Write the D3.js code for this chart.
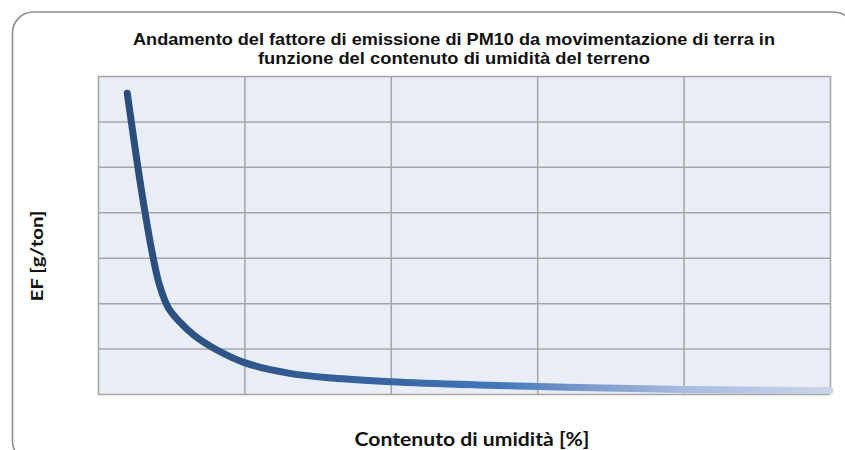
<!DOCTYPE html>
<html>
<head>
<meta charset="utf-8">
<script src="https://cdn.jsdelivr.net/npm/d3@7"></script>
<style>
  html, body { margin: 0; padding: 0; background: #ffffff; }
  svg { display: block; }
</style>
</head>
<body>
<svg id="chart" width="845" height="450"></svg>
<script>
// Moisture content [%] and PM10 emission factor [g/ton]
const moisture = [1.0, 1.5, 1.9, 2.1, 2.4, 2.8, 3.3, 4.0, 5.0, 6.5, 8.0, 10, 13, 16, 20, 25];
const emissionFactor = [6.62, 4.42, 2.95, 2.4, 1.9, 1.58, 1.28, 0.99, 0.69, 0.46, 0.35, 0.27, 0.20, 0.15, 0.10, 0.075];

const xTicks = [0, 5, 10, 15, 20, 25];
const yTicks = [0, 1, 2, 3, 4, 5, 6, 7];

const titleLines = [
  "Andamento  del fattore di emissione  di PM10 da movimentazione  di terra in",
  "funzione del contenuto di umidità  del terreno"
];
const xLabel = "Contenuto di umidità [%]";
const yLabel = "EF [g/ton]";

const svg = d3.select("#chart");
const plot = { left: 98, top: 76, right: 830, bottom: 394 };

const x = d3.scaleLinear().domain([0, 25]).range([plot.left, plot.right]);
const y = d3.scaleLinear().domain([0, 7]).range([plot.bottom, plot.top]);

// outer rounded frame
svg.append("rect")
  .attr("x", 12.5).attr("y", 12)
  .attr("width", 842).attr("height", 450)
  .attr("rx", 21).attr("ry", 21)
  .attr("fill", "none")
  .attr("stroke", "#8e8e8e")
  .attr("stroke-width", 1.6);

// plot background
svg.append("rect")
  .attr("x", plot.left).attr("y", plot.top)
  .attr("width", plot.right - plot.left)
  .attr("height", plot.bottom - plot.top)
  .attr("fill", "#e9eef6");

// grid via axes
const gridX = d3.axisBottom(x)
  .tickValues(xTicks)
  .tickSize(-(plot.bottom - plot.top))
  .tickFormat(() => "");
const gridY = d3.axisLeft(y)
  .tickValues(yTicks)
  .tickSize(-(plot.right - plot.left))
  .tickFormat(() => "");

const gx = svg.append("g")
  .attr("transform", `translate(0,${plot.bottom})`)
  .call(gridX);
const gy = svg.append("g")
  .attr("transform", `translate(${plot.left},0)`)
  .call(gridY);

[gx, gy].forEach(g => {
  g.select(".domain").remove();
  g.selectAll(".tick line")
    .attr("stroke", "#a4a4a4")
    .attr("stroke-width", 1.5);
});

// gradient along the curve: dark blue fading to pale blue
const defs = svg.append("defs");
const grad = defs.append("linearGradient")
  .attr("id", "curveGrad")
  .attr("gradientUnits", "userSpaceOnUse")
  .attr("x1", x(0)).attr("y1", 0)
  .attr("x2", x(25)).attr("y2", 0);
[
  [0.00, "#2a4b78"],
  [0.20, "#2f568a"],
  [0.40, "#3865a3"],
  [0.55, "#4377bb"],
  [0.65, "#7494c8"],
  [0.80, "#a8bade"],
  [1.00, "#cbd5e8"]
].forEach(([o, c]) => grad.append("stop").attr("offset", o).attr("stop-color", c));

const data = moisture.map((m, i) => ({ m, ef: emissionFactor[i] }));
const line = d3.line()
  .x(d => x(d.m))
  .y(d => y(d.ef))
  .curve(d3.curveCatmullRom.alpha(0.5));

svg.append("path")
  .datum(data)
  .attr("d", line)
  .attr("fill", "none")
  .attr("stroke", "url(#curveGrad)")
  .attr("stroke-width", 7)
  .attr("stroke-linecap", "round")
  .attr("stroke-linejoin", "round");

// title
const title = svg.append("g")
  .attr("font-family", "'Liberation Sans', Arial, sans-serif")
  .attr("font-weight", "bold")
  .attr("font-size", 16.5)
  .attr("fill", "#111");
title.append("text")
  .attr("x", 454).attr("y", 44.5)
  .attr("text-anchor", "middle")
  .attr("textLength", 642)
  .attr("lengthAdjust", "spacingAndGlyphs")
  .text(titleLines[0]);
title.append("text")
  .attr("x", 454).attr("y", 63.5)
  .attr("text-anchor", "middle")
  .attr("textLength", 392)
  .attr("lengthAdjust", "spacingAndGlyphs")
  .text(titleLines[1]);

// axis titles
svg.append("text")
  .attr("x", 472).attr("y", 446)
  .attr("text-anchor", "middle")
  .attr("font-family", "Lato, 'Open Sans', sans-serif")
  .attr("font-weight", "bold")
  .attr("font-size", 18)
  .attr("fill", "#111")
  .attr("textLength", 235)
  .attr("lengthAdjust", "spacingAndGlyphs")
  .text(xLabel);

svg.append("text")
  .attr("transform", "translate(42.5,256) rotate(-90)")
  .attr("text-anchor", "middle")
  .attr("font-family", "Lato, 'Open Sans', sans-serif")
  .attr("font-weight", "bold")
  .attr("font-size", 17)
  .attr("fill", "#111")
  .attr("textLength", 91)
  .attr("lengthAdjust", "spacingAndGlyphs")
  .text(yLabel);
</script>
</body>
</html>
